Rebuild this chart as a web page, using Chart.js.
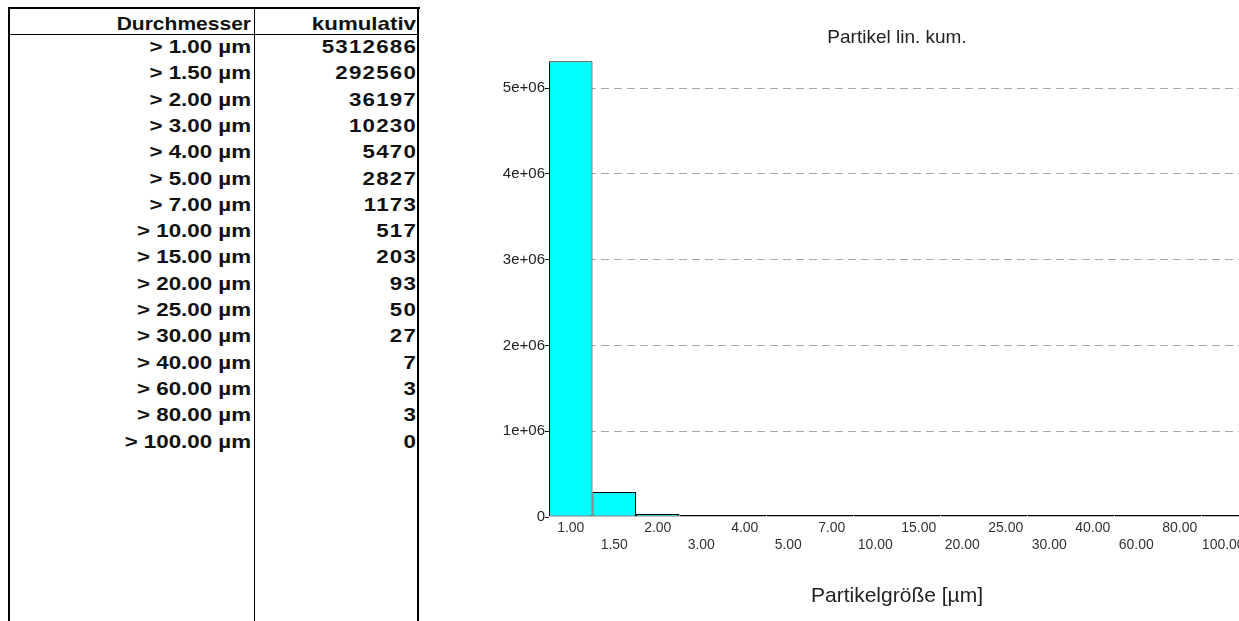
<!DOCTYPE html>
<html><head><meta charset="utf-8">
<script src="https://cdn.jsdelivr.net/npm/chart.js@4/dist/chart.umd.min.js"></script>
<style>
html,body{margin:0;padding:0;background:#fff;width:1239px;height:621px;overflow:hidden;position:relative;font-family:"Liberation Sans",Arial,sans-serif;}
.ln{position:absolute;background:#000;}
.cell{position:absolute;height:22px;line-height:22px;font-weight:bold;font-size:18.6px;color:#111;text-align:right;white-space:nowrap;transform:scaleX(1.2);transform-origin:100% 50%;}
.num{letter-spacing:1px;}
.hd1{transform:scaleX(1.13);}
#wrap{position:absolute;left:420px;top:0;width:830px;height:621px;}
</style></head><body>
<div class="ln" style="left:8px;top:7px;width:412px;height:2px"></div>
<div class="ln" style="left:8px;top:7px;width:2px;height:614px"></div>
<div class="ln" style="left:254px;top:7px;width:1px;height:614px"></div>
<div class="ln" style="left:417px;top:7px;width:2px;height:614px"></div>
<div class="ln" style="left:8px;top:34px;width:411px;height:1px"></div>
<div id="tbl"></div>
<div id="wrap"><canvas id="c" width="830" height="621"></canvas></div>
<script>
const sizeLabels = ['1.00','1.50','2.00','3.00','4.00','5.00','7.00','10.00','15.00','20.00','25.00','30.00','40.00','60.00','80.00','100.00'];
const cumulativeCounts = [5312686,292560,36197,10230,5470,2827,1173,517,203,93,50,27,7,3,3,0];
const yTickValues = [0,1000000,2000000,3000000,4000000,5000000];
const yTickLabels = ['0','1e+06','2e+06','3e+06','4e+06','5e+06'];
const tableHeaders = ['Durchmesser','kumulativ'];
const chartTitle = 'Partikel lin. kum.';
const xAxisTitle = 'Partikelgröße [µm]';

// table
const tbl = document.getElementById('tbl');
function addCell(text, rightEdge, centerY, extra) {
  const d = document.createElement('div');
  d.className = 'cell' + (extra ? ' ' + extra : '');
  d.style.left = '0px';
  d.style.width = rightEdge + 'px';
  d.style.top = (centerY - 11) + 'px';
  d.textContent = text;
  tbl.appendChild(d);
}
addCell(tableHeaders[0], 251, 24, 'hd1');
addCell(tableHeaders[1], 416, 24);
sizeLabels.forEach((s, i) => {
  const y = 47 + 26.3 * i;
  addCell('> ' + s + ' µm', 251, y);
  addCell(String(cumulativeCounts[i]), 417, y, 'num');
});

Chart.defaults.font.family = '"Liberation Sans", Arial, sans-serif';
new Chart(document.getElementById('c'), {
  type: 'bar',
  data: {
    labels: sizeLabels,
    datasets: [{
      data: cumulativeCounts,
      backgroundColor: '#00ffff',
      borderColor: '#000',
      borderWidth: 1,
      borderSkipped: false,
      inflateAmount: 0,
      barPercentage: 1,
      categoryPercentage: 1,
      minBarLength: 2
    }]
  },
  options: {
    responsive: false,
    devicePixelRatio: 1,
    animation: false,
    layout: { padding: { left: 0, right: 5, top: 0, bottom: 0 } },
    plugins: {
      legend: { display: false },
      tooltip: { enabled: false },
      title: {
        display: true, text: chartTitle, fullSize: false, color: '#222',
        font: { size: 19, weight: 'normal', lineHeight: 1.2 },
        padding: { top: 26, bottom: 4.9 }
      }
    },
    scales: {
      x: {
        offset: true,
        grid: { display: false, drawTicks: false },
        border: { display: false },
        ticks: {
          z: 1,
          autoSkip: false, maxRotation: 0, minRotation: 0, padding: 2,
          color: '#333', font: { size: 14, lineHeight: 1.25 },
          callback: (v, i) => (i % 2 ? ['', sizeLabels[i]] : sizeLabels[i]),
          showLabelBackdrop: true,
          backdropColor: ctx => (ctx.index % 2 ? 'rgba(0,0,0,0)' : '#ffffff'),
          backdropPadding: { top: 5, bottom: 0, left: 2, right: 2 }
        },
        title: {
          display: true, text: xAxisTitle, color: '#222',
          font: { size: 21, lineHeight: 1.2 },
          padding: { top: 0, bottom: 12 }
        },
        afterFit: s => { s.height = 104; }
      },
      y: {
        min: 0, max: 5400000,
        afterBuildTicks: s => { s.ticks = yTickValues.map(v => ({ value: v })); },
        ticks: {
          callback: v => yTickLabels[yTickValues.indexOf(v)],
          padding: 0, color: '#222', font: { size: 15 }
        },
        grid: {
          color: ctx => (ctx.tick && ctx.tick.value === 0 ? 'rgba(0,0,0,0)' : '#a8a8a8'),
          tickColor: '#000', tickLength: 4, lineWidth: 1
        },
        border: { display: false, dash: [8, 5] },
        afterFit: s => { s.width = 129; }
      }
    }
  }
});
</script>
</body></html>
